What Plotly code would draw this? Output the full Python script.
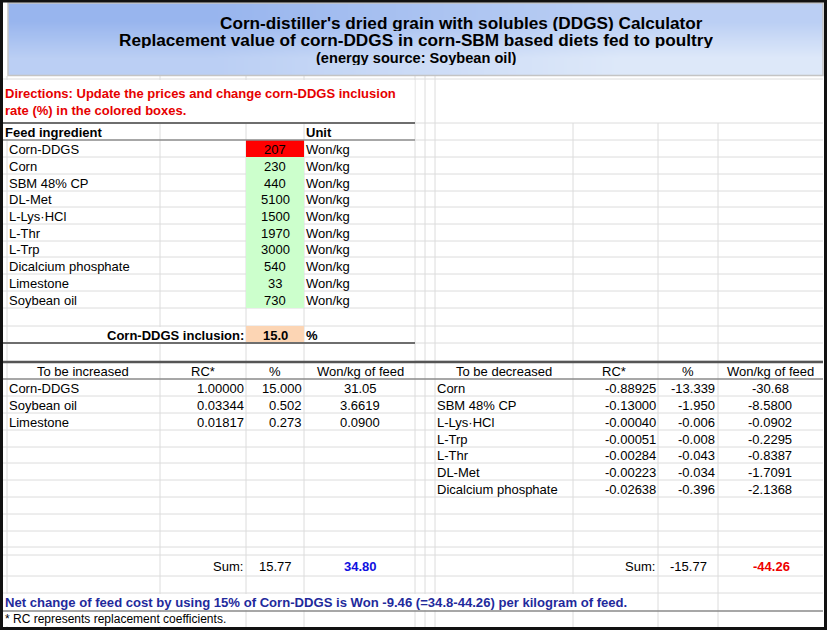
import plotly.graph_objects as go

# ---------------- data ----------------
title_lines = [
    "Corn-distiller's dried grain with solubles (DDGS) Calculator",
    "Replacement value of corn-DDGS in corn-SBM based diets fed to poultry",
    "(energy source: Soybean oil)",
]
directions = ["Directions: Update the prices and change corn-DDGS inclusion",
              "rate (%) in the colored boxes."]

ingredients = ["Corn-DDGS", "Corn", "SBM 48% CP", "DL-Met", "L-Lys·HCl", "L-Thr",
               "L-Trp", "Dicalcium phosphate", "Limestone", "Soybean oil"]
prices = [207, 230, 440, 5100, 1500, 1970, 3000, 540, 33, 730]
price_unit = "Won/kg"
ddgs_inclusion = 15.0

inc_names = ["Corn-DDGS", "Soybean oil", "Limestone"]
inc_rc = [1.00000, 0.03344, 0.01817]
inc_pct = [15.000, 0.502, 0.273]
inc_won = [31.05, 3.6619, 0.0900]
inc_won_dec = [2, 4, 4]

dec_names = ["Corn", "SBM 48% CP", "L-Lys·HCl", "L-Trp", "L-Thr", "DL-Met",
             "Dicalcium phosphate"]
dec_rc = [-0.88925, -0.13000, -0.00040, -0.00051, -0.00284, -0.00223, -0.02638]
dec_pct = [-13.339, -1.950, -0.006, -0.008, -0.043, -0.034, -0.396]
dec_won = [-30.68, -8.5800, -0.0902, -0.2295, -0.8387, -1.7091, -2.1368]
dec_won_dec = [2, 4, 4, 4, 4, 4, 4]

inc_sum_pct, inc_sum_won = 15.77, 34.80
dec_sum_pct, dec_sum_won = -15.77, -44.26
net_change = -9.46
footnote = "* RC represents replacement coefficients."

# ---------------- geometry (layout only) ----------------
W, H = 827, 630
UP_ROWS = [123, 140, 157, 174, 191, 207, 224, 241, 257, 274, 291, 308, 326, 343, 361]
LO_ROWS = [362, 379, 396, 413, 430, 447, 463, 480, 497, 514, 531, 547, 555, 576, 593, 611, 627]
VLINES = [7, 160, 246, 304, 415, 425, 435, 573, 658, 718]
FONT = "Liberation Sans, Arial, sans-serif"
GRID = "#dcdcdc"

shapes = []


def line(x0, y0, x1, y1, color=GRID, width=1):
    shapes.append(dict(type="line", xref="x", yref="y", x0=x0, y0=y0, x1=x1, y1=y1,
                       line=dict(color=color, width=width)))


def rect(x0, y0, x1, y1, fill, lc=None, lw=0):
    shapes.append(dict(type="rect", xref="x", yref="y", x0=x0, y0=y0, x1=x1, y1=y1,
                       fillcolor=fill, line=dict(color=lc or fill, width=lw)))


# vertical gridlines
for x in VLINES:
    top = 123 if x > 435 else 76
    line(x, top, x, 627)

# masks where overflow text hides the gridlines
rect(3.5, 80, 414.5, 122, "white")          # directions
rect(3.5, 124, 158, 139, "white")           # Feed ingredient header
rect(100, 327, 245, 342, "white")           # inclusion label
rect(3.5, 594, 657, 610, "white")           # net change
rect(3.5, 612, 244, 626, "white")           # footnote

# horizontal gridlines
line(3, 79, 823, 79)
for y in UP_ROWS[2:13]:
    line(3, y, 415, y)
for y in UP_ROWS[0:15]:
    line(415, y, 823, y)
for y in LO_ROWS[2:15]:
    line(3, y, 823, y)

# coloured input cells
rect(246, UP_ROWS[1], 304, UP_ROWS[2], "#ff0000")
rect(246, UP_ROWS[2], 304, UP_ROWS[11], "#ccffcc")
rect(246, UP_ROWS[12], 304, UP_ROWS[13], "#fcd5b4")

# darker rule lines
line(3, 123, 415, 123, "#6e6e6e", 2)
line(3, 140, 415, 140, "#8a8a8a", 1.5)
line(3, 343, 415, 343, "#6e6e6e", 2)
line(3, 362, 823, 362, "#555555", 2.5)
line(3, 379, 823, 379, "#8a8a8a", 1.5)
line(3, 611, 823, 611, "#8a8a8a", 1.5)

# title box border
shapes.append(dict(type="rect", xref="x", yref="y", x0=8, y0=3, x1=823, y1=75.5,
                   line=dict(color="#c4c4c4", width=1.5)))
# outer border
shapes.append(dict(type="rect", xref="x", yref="y", x0=1.5, y0=1, x1=825.5, y1=628.5,
                   line=dict(color="#111111", width=3)))

annotations = []


def txt(x, y, s, anchor="left", size=13, bold=False, color="black", h=None):
    if bold:
        s = "<b>" + s + "</b>"
    a = dict(x=x, y=y, xref="x", yref="y", text=s, showarrow=False,
             xanchor=anchor, yanchor="middle", borderpad=0, borderwidth=0,
             font=dict(family=FONT, size=size, color=color))
    if h:
        a["height"] = h
        a["valign"] = "middle"
    annotations.append(a)


def mid(rows, i):
    return (rows[i] + rows[i + 1]) / 2 + 0.5


# title
txt(461, 23, title_lines[0], "center", 17.2, True, h=16)
txt(416, 40, title_lines[1], "center", 17.2, True, h=16)
txt(416, 57, title_lines[2], "center", 14.6, True, h=15)

# directions
txt(5, 93, directions[0], "left", 13, True, "#e60000")
txt(5, 110, directions[1], "left", 13, True, "#e60000")

# feed ingredient table
txt(5, mid(UP_ROWS, 0), "Feed ingredient", "left", 13, True)
txt(306, mid(UP_ROWS, 0), "Unit", "left", 13, True)
for i, (name, p) in enumerate(zip(ingredients, prices)):
    r = mid(UP_ROWS, i + 1)
    txt(9, r, name)
    txt(275, r, f"{p}", "center")
    txt(306, r, price_unit)
r = mid(UP_ROWS, 12)
txt(244, r, "Corn-DDGS inclusion:", "right", 13, True)
txt(275, r, f"{ddgs_inclusion:.1f}", "center", 13, True)
txt(306, r, "%", "left", 13, True)

# lower tables headers
r = mid(LO_ROWS, 0)
txt(83, r, "To be increased", "center")
txt(203, r, "RC*", "center")
txt(275, r, "%", "center")
txt(360, r, "Won/kg of feed", "center")
txt(504, r, "To be decreased", "center")
txt(614, r, "RC*", "center")
txt(688, r, "%", "center")
txt(770, r, "Won/kg of feed", "center")

for i in range(len(inc_names)):
    r = mid(LO_ROWS, i + 1)
    txt(9, r, inc_names[i])
    txt(244, r, f"{inc_rc[i]:.5f}", "right")
    txt(302, r, f"{inc_pct[i]:.3f}", "right")
    txt(360, r, f"{inc_won[i]:.{inc_won_dec[i]}f}", "center")

for i in range(len(dec_names)):
    r = mid(LO_ROWS, i + 1)
    txt(437, r, dec_names[i])
    txt(656, r, f"{dec_rc[i]:.5f}", "right")
    txt(715, r, f"{dec_pct[i]:.3f}", "right")
    txt(770, r, f"{dec_won[i]:.{dec_won_dec[i]}f}", "center")

# sums
r = mid(LO_ROWS, 12)
txt(243, r, "Sum:", "right", 13)
txt(275, r, f"{inc_sum_pct:.2f}", "center", 13)
txt(360, r, f"{inc_sum_won:.2f}", "center", 13, True, "#1010e0")
txt(655, r, "Sum:", "right", 13)
txt(688, r, f"{dec_sum_pct:.2f}", "center", 13)
txt(771, r, f"{dec_sum_won:.2f}", "center", 13, True, "#ee0000")

net_text = (f"Net change of feed cost by using {ddgs_inclusion:.0f}% of Corn-DDGS is Won "
            f"{net_change:.2f} (={inc_sum_won:g}-{abs(dec_sum_won):g}) per kilogram of feed.")
txt(5, mid(LO_ROWS, 14), net_text, "left", 13.1, True, "#1f2a9c")
txt(5, mid(LO_ROWS, 15) - 0.5, footnote, "left", 12)

fig = go.Figure()
fig.add_trace(go.Heatmap(x=[8, 415.5, 823], y=[3, 39, 75.5], z=[[0, 1], [1, 2]],
                         zsmooth="best", showscale=False, hoverinfo="skip",
                         colorscale=[[0, "#98b5ee"], [1, "#dde8f9"]]))
fig.update_layout(
    width=W, height=H, margin=dict(l=0, r=0, t=0, b=0),
    paper_bgcolor="white", plot_bgcolor="white",
    xaxis=dict(range=[0, W], visible=False, fixedrange=True),
    yaxis=dict(range=[H, 0], visible=False, fixedrange=True),
    shapes=shapes, annotations=annotations, showlegend=False,
)
fig.write_html("out.html", config={"displayModeBar": False, "staticPlot": True},
               post_script="document.body.style.margin='0px';document.body.style.padding='0px';"
                           "document.body.style.overflow='hidden';")
